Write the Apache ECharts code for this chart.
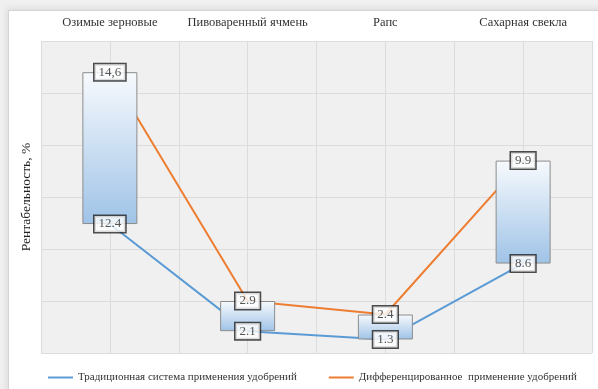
<!DOCTYPE html>
<html>
<head>
<meta charset="utf-8">
<script src="https://cdn.jsdelivr.net/npm/echarts@6/dist/echarts.min.js"></script>
<style>
  body { margin: 0; background: #f0f0f0; }
  .frame {
    position: absolute; left: 8px; top: 10px; width: 600px; height: 390px;
    background: #fff; border: 1px solid #d4d4d4;
    box-shadow: -2px -2px 6px rgba(0,0,0,0.08);
  }
  #chart { position: absolute; left: 0; top: 0; width: 598px; height: 389px; }
</style>
</head>
<body>
<div class="frame"></div>
<div id="chart"></div>
<script>
// категории и значения рентабельности
var categories = ['Озимые зерновые', 'Пивоваренный ячмень', 'Рапс', 'Сахарная свекла'];
var traditional = [12.4, 2.1, 1.3, 8.6];
var differentiated = [14.6, 2.9, 2.4, 9.9];
// подписи как на исходной диаграмме
var tradLabels = ['12.4', '2.1', '1.3', '8.6'];
var diffLabels = ['14,6', '2.9', '2.4', '9.9'];

var serif = '"Liberation Serif", "DejaVu Serif", serif';

// линии в исходнике накопительные — точка второй линии = сумма
var totals = traditional.map(function (v, i) { return v + differentiated[i]; });

var labelStyle = {
  show: true,
  position: 'inside',
  fontFamily: serif,
  fontSize: 13,
  color: '#2a2a2a',
  backgroundColor: '#fff',
  borderColor: '#222',
  borderWidth: 1.5,
  padding: [2, 4, 1, 4]
};

var myChart = echarts.init(document.getElementById('chart'));
myChart.setOption({
  animation: false,
  grid: { left: 41, right: 6, top: 41, bottom: 36, show: true, backgroundColor: '#f0f0f0', borderWidth: 0 },
  xAxis: [
    {
      type: 'category',
      position: 'top',
      data: categories,
      axisLine: { show: false },
      axisTick: { show: false },
      axisLabel: { interval: 0, fontFamily: serif, fontSize: 12.5, color: '#333', margin: 12 },
      splitLine: { show: true, lineStyle: { color: '#dcdcdc' } }
    },
    {
      type: 'value',
      min: 0, max: 8, interval: 1,
      show: true,
      axisLine: { show: false },
      axisTick: { show: false },
      axisLabel: { show: false },
      splitLine: { show: true, lineStyle: { color: '#dcdcdc' } }
    }
  ],
  yAxis: {
    type: 'value',
    min: 0, max: 30, interval: 5,
    axisLabel: { show: false },
    axisLine: { show: false },
    axisTick: { show: false },
    splitLine: { lineStyle: { color: '#dcdcdc' } },
    name: 'Рентабельность, %',
    nameLocation: 'middle',
    nameGap: 8,
    nameTextStyle: { fontFamily: serif, fontSize: 13.5, color: '#222' }
  },
  legend: {
    data: ['Традиционная система применения удобрений', 'Дифференцированное  применение удобрений'],
    left: 43, top: 367,
    icon: 'rect',
    itemWidth: 25, itemHeight: 2, itemGap: 32,
    textStyle: { fontFamily: serif, fontSize: 11, color: '#333' }
  },
  series: [
    {
      name: 'Традиционная система применения удобрений',
      type: 'line', stack: 'lines', symbol: 'none', z: 2,
      data: traditional,
      lineStyle: { color: '#5b9bd5', width: 2 },
      itemStyle: { color: '#5b9bd5' }
    },
    {
      name: 'Дифференцированное  применение удобрений',
      type: 'line', stack: 'lines', symbol: 'none', z: 2,
      data: differentiated,
      lineStyle: { color: '#ed7d31', width: 2 },
      itemStyle: { color: '#ed7d31' }
    },
    {
      // невидимое основание коробки
      type: 'bar', stack: 'box', barWidth: 55, z: 3,
      data: traditional,
      itemStyle: { color: 'rgba(0,0,0,0)' },
      silent: true
    },
    {
      type: 'bar', stack: 'box', barWidth: 55, z: 3,
      data: differentiated,
      itemStyle: {
        color: new echarts.graphic.LinearGradient(0, 0, 0, 1, [
          { offset: 0, color: '#f7fafd' },
          { offset: 1, color: '#9fc3e7' }
        ]),
        borderColor: '#8c8c8c',
        borderWidth: 1
      }
    },
    {
      type: 'scatter', z: 10, symbolSize: 1,
      itemStyle: { color: 'rgba(0,0,0,0)' },
      data: traditional,
      label: Object.assign({}, labelStyle, {
        formatter: function (p) { return tradLabels[p.dataIndex]; }
      })
    },
    {
      type: 'scatter', z: 10, symbolSize: 1,
      itemStyle: { color: 'rgba(0,0,0,0)' },
      data: totals,
      label: Object.assign({}, labelStyle, {
        formatter: function (p) { return diffLabels[p.dataIndex]; }
      })
    }
  ]
});
</script>
</body>
</html>
